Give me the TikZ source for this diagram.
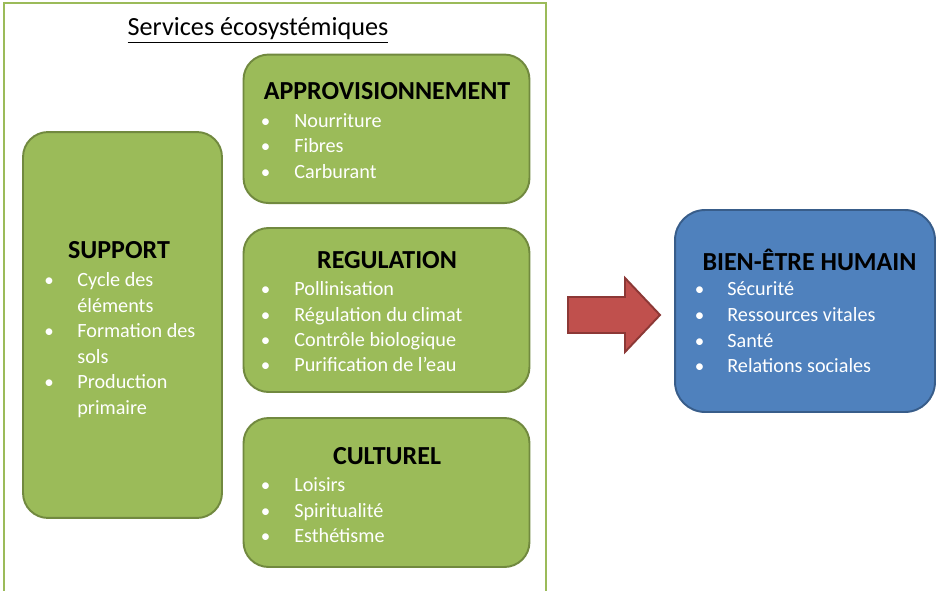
\documentclass[tikz,border=0pt]{standalone}
\usepackage{fontspec}
\setmainfont{Carlito}
\usepackage{tikz}
\definecolor{vertfond}{HTML}{9BBB59}
\definecolor{vertbord}{HTML}{71893F}
\definecolor{bleufond}{HTML}{4F81BD}
\definecolor{bleubord}{HTML}{385D8A}
\definecolor{rougefond}{HTML}{C0504D}
\definecolor{rougebord}{HTML}{8C3836}
\tikzset{
  boxV/.style={ draw=vertbord, fill=vertfond, line width=1.1pt, rounded corners=0.5cm }
}
\tikzset{
  boxB/.style={ draw=bleubord, fill=bleufond, line width=1.1pt, rounded corners=0.6cm }
}
\tikzset{
  titre/.style={ font=\fontsize{14.8}{17}\selectfont\bfseries, anchor=base, inner sep=0pt }
}
\tikzset{
  puce/.style={ text=white, font=\fontsize{10.8}{14.5}\selectfont, anchor=base, inner sep=0pt }
}
\tikzset{
  elem/.style={ text=white, font=\fontsize{11.5}{14.5}\selectfont, anchor=base west, inner sep=0pt }
}
% one bullet line: name, bullet x, text x, baseline y, text
\newcommand{\svitem}[5]{%
  \node[puce] (#1p) at (#2, #4) {•};
  \node[elem] (#1) at (#3, #4) {#5};
}

\begin{document}
\begin{tikzpicture}[x=0.02cm, y=-0.02cm]
  \clip (0, 0) rectangle (936, 591);
  \fill[white] (0, 0) rectangle (936, 591);

  % cadre des services
  \draw[vertfond, line width=1.3pt] (4, 620) -- (4, 3) -- (546, 3) -- (546, 620);
  \node[font=\fontsize{14.9}{17}\selectfont, anchor=base, inner sep=0pt] (services) at (258, 36)
    {\underline{Services écosystémiques}};

  \node[boxV, minimum width=3.98cm, minimum height=7.72cm] (supp) at (122.5, 325) {};
  \node[boxV, minimum width=5.72cm, minimum height=2.97cm] (appro) at (386.5, 128.8) {};
  \node[boxV, minimum width=5.72cm, minimum height=3.28cm] (regul) at (386.5, 310) {};
  \node[boxV, minimum width=5.72cm, minimum height=2.98cm] (cultu) at (386.5, 492.5) {};
  \node[boxB, minimum width=5.2cm, minimum height=4.04cm] (bien) at (805, 311) {};

  % support
  \node[titre] (suppT) at (119, 258.3) {SUPPORT};
  \svitem{sp1}{49}{77}{286.7}{Cycle des}
  \node[elem] (sp1b) at (77, 312.2) {éléments};
  \svitem{sp2}{49}{77}{337.7}{Formation des}
  \node[elem] (sp2b) at (77, 363.2) {sols};
  \svitem{sp3}{49}{77}{388.7}{Production}
  \node[elem] (sp3b) at (77, 414.2) {primaire};

  % approvisionnement
  \node[titre] (approT) at (387, 99.3) {APPROVISIONNEMENT};
  \svitem{ap1}{265.5}{294}{127.3}{Nourriture}
  \svitem{ap2}{265.5}{294}{152.7}{Fibres}
  \svitem{ap3}{265.5}{294}{178.3}{Carburant}

  % regulation
  \node[titre] (regulT) at (387, 268) {REGULATION};
  \svitem{rg1}{265.5}{294}{295}{Pollinisation}
  \svitem{rg2}{265.5}{294}{321}{Régulation du climat}
  \svitem{rg3}{265.5}{294}{346}{Contrôle biologique}
  \svitem{rg4}{265.5}{294}{371.7}{Purification de l’eau}

  % culturel
  \node[titre] (cultuT) at (387, 464) {CULTUREL};
  \svitem{cu1}{265.5}{294}{491.7}{Loisirs}
  \svitem{cu2}{265.5}{294}{517.3}{Spiritualité}
  \svitem{cu3}{265.5}{294}{542.7}{Esthétisme}

  % bien-etre
  \node[titre] (bienT) at (809.5, 270) {BIEN-ÊTRE HUMAIN};
  \svitem{be1}{699.5}{727}{296}{Sécurité}
  \svitem{be2}{699.5}{727}{321}{Ressources vitales}
  \svitem{be3}{699.5}{727}{347}{Santé}
  \svitem{be4}{699.5}{727}{372.6}{Relations sociales}

  % grosse fleche
  \draw[draw=rougebord, fill=rougefond, line width=1.1pt, line join=miter]
    (568, 297) -- (625, 297) -- (625, 278) -- (660, 315) -- (625, 352)
    -- (625, 333) -- (568, 333) -- cycle;
\end{tikzpicture}
\end{document}
